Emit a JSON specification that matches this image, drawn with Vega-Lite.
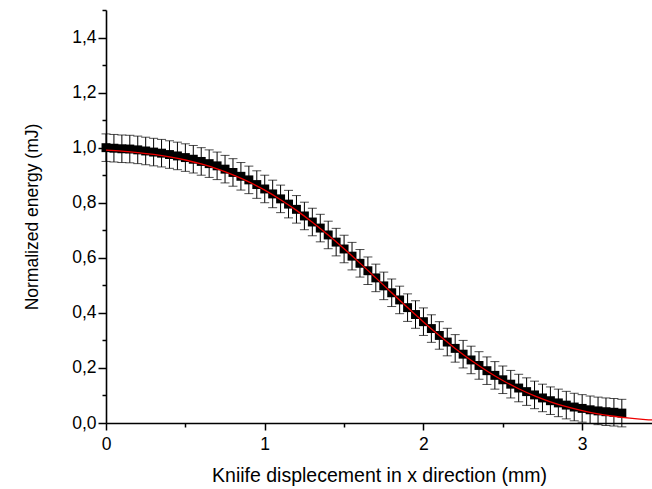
{
  "$schema": "https://vega.github.io/schema/vega-lite/v6.json",
  "width": 546,
  "height": 413,
  "autosize": {"type": "none"},
  "padding": {"left": 106, "top": 10, "right": 0, "bottom": 66},
  "background": "white",
  "config": {
    "view": {"stroke": null},
    "font": "Liberation Sans",
    "axis": {"domainColor": "black", "tickColor": "black", "labelColor": "black", "titleColor": "black", "grid": false, "labelFont": "Liberation Sans", "titleFont": "Liberation Sans", "titleFontWeight": "normal", "domainWidth": 1.6, "tickWidth": 1.5}
  },
  "datasets": {
    "meas": [
      {"x": 0.00, "y": 1.000, "err": 0.05}, {"x": 0.05, "y": 0.998, "err": 0.05}, {"x": 0.10, "y": 0.996, "err": 0.05}, {"x": 0.15, "y": 0.995, "err": 0.05},
      {"x": 0.20, "y": 0.992, "err": 0.05}, {"x": 0.25, "y": 0.988, "err": 0.05}, {"x": 0.30, "y": 0.984, "err": 0.05}, {"x": 0.35, "y": 0.980, "err": 0.05},
      {"x": 0.40, "y": 0.975, "err": 0.05}, {"x": 0.45, "y": 0.970, "err": 0.05}, {"x": 0.50, "y": 0.964, "err": 0.05}, {"x": 0.55, "y": 0.958, "err": 0.05},
      {"x": 0.60, "y": 0.950, "err": 0.05}, {"x": 0.65, "y": 0.942, "err": 0.05}, {"x": 0.70, "y": 0.934, "err": 0.05}, {"x": 0.75, "y": 0.922, "err": 0.05},
      {"x": 0.80, "y": 0.910, "err": 0.05}, {"x": 0.85, "y": 0.896, "err": 0.05}, {"x": 0.90, "y": 0.883, "err": 0.05}, {"x": 0.95, "y": 0.866, "err": 0.05},
      {"x": 1.00, "y": 0.850, "err": 0.05}, {"x": 1.05, "y": 0.832, "err": 0.05}, {"x": 1.10, "y": 0.814, "err": 0.05}, {"x": 1.15, "y": 0.795, "err": 0.05},
      {"x": 1.20, "y": 0.776, "err": 0.05}, {"x": 1.25, "y": 0.752, "err": 0.05}, {"x": 1.30, "y": 0.730, "err": 0.05}, {"x": 1.35, "y": 0.708, "err": 0.05},
      {"x": 1.40, "y": 0.683, "err": 0.05}, {"x": 1.45, "y": 0.657, "err": 0.05}, {"x": 1.50, "y": 0.632, "err": 0.05}, {"x": 1.55, "y": 0.606, "err": 0.05},
      {"x": 1.60, "y": 0.580, "err": 0.05}, {"x": 1.65, "y": 0.553, "err": 0.05}, {"x": 1.70, "y": 0.527, "err": 0.05}, {"x": 1.75, "y": 0.498, "err": 0.05},
      {"x": 1.80, "y": 0.473, "err": 0.05}, {"x": 1.85, "y": 0.447, "err": 0.05}, {"x": 1.90, "y": 0.419, "err": 0.05}, {"x": 1.95, "y": 0.394, "err": 0.05},
      {"x": 2.00, "y": 0.368, "err": 0.05}, {"x": 2.05, "y": 0.343, "err": 0.05}, {"x": 2.10, "y": 0.318, "err": 0.05}, {"x": 2.15, "y": 0.294, "err": 0.05},
      {"x": 2.20, "y": 0.271, "err": 0.05}, {"x": 2.25, "y": 0.250, "err": 0.05}, {"x": 2.30, "y": 0.229, "err": 0.05}, {"x": 2.35, "y": 0.209, "err": 0.05},
      {"x": 2.40, "y": 0.190, "err": 0.05}, {"x": 2.45, "y": 0.173, "err": 0.05}, {"x": 2.50, "y": 0.157, "err": 0.05}, {"x": 2.55, "y": 0.141, "err": 0.05},
      {"x": 2.60, "y": 0.127, "err": 0.05}, {"x": 2.65, "y": 0.114, "err": 0.05}, {"x": 2.70, "y": 0.102, "err": 0.05}, {"x": 2.75, "y": 0.091, "err": 0.05},
      {"x": 2.80, "y": 0.081, "err": 0.05}, {"x": 2.85, "y": 0.073, "err": 0.05}, {"x": 2.90, "y": 0.065, "err": 0.05}, {"x": 2.95, "y": 0.058, "err": 0.05},
      {"x": 3.00, "y": 0.053, "err": 0.05}, {"x": 3.05, "y": 0.048, "err": 0.05}, {"x": 3.10, "y": 0.044, "err": 0.05}, {"x": 3.15, "y": 0.041, "err": 0.05},
      {"x": 3.20, "y": 0.039, "err": 0.05}, {"x": 3.25, "y": 0.036, "err": 0.05}
    ],
    "fit": [
      {"x": 0.00, "y": 0.9912}, {"x": 0.10, "y": 0.9874}, {"x": 0.20, "y": 0.9823}, {"x": 0.30, "y": 0.9755}, {"x": 0.40, "y": 0.9666},
      {"x": 0.50, "y": 0.9552}, {"x": 0.60, "y": 0.9407}, {"x": 0.70, "y": 0.9229}, {"x": 0.80, "y": 0.9013}, {"x": 0.90, "y": 0.8756},
      {"x": 1.00, "y": 0.8456}, {"x": 1.10, "y": 0.8111}, {"x": 1.20, "y": 0.7722}, {"x": 1.30, "y": 0.7293}, {"x": 1.40, "y": 0.6826},
      {"x": 1.50, "y": 0.6328}, {"x": 1.60, "y": 0.5807}, {"x": 1.70, "y": 0.5271}, {"x": 1.80, "y": 0.4729}, {"x": 1.90, "y": 0.4193},
      {"x": 2.00, "y": 0.3672}, {"x": 2.10, "y": 0.3174}, {"x": 2.20, "y": 0.2707}, {"x": 2.30, "y": 0.2278}, {"x": 2.40, "y": 0.1889},
      {"x": 2.50, "y": 0.1544}, {"x": 2.60, "y": 0.1244}, {"x": 2.70, "y": 0.0987}, {"x": 2.80, "y": 0.0771}, {"x": 2.90, "y": 0.0593},
      {"x": 3.00, "y": 0.0449}, {"x": 3.10, "y": 0.0334}, {"x": 3.20, "y": 0.0245}, {"x": 3.30, "y": 0.0177}, {"x": 3.40, "y": 0.0126},
      {"x": 3.50, "y": 0.0089}
    ]
  },
  "encoding": {
    "x": {
      "field": "x", "type": "quantitative",
      "scale": {"domain": [0, 3.44], "nice": false, "zero": false},
      "axis": {
        "title": "Kniife displecement in x direction (mm)",
        "titleFontSize": 19.5, "titlePadding": 14,
        "values": [0, 0.5, 1, 1.5, 2, 2.5, 3],
        "labelExpr": "datum.value % 1 == 0 ? format(datum.value, 'd') : ''",
        "labelFontSize": 17.5, "labelPadding": 5,
        "tickSize": {"condition": {"test": "datum.value % 1 == 0", "value": 7}, "value": 4},
        "labelFlush": false
      }
    },
    "y": {
      "field": "y", "type": "quantitative",
      "scale": {"domain": [0, 1.5], "nice": false},
      "axis": {
        "title": "Normalized energy (mJ)",
        "titleFontSize": 17.5, "titlePadding": 30,
        "values": [0, 0.1, 0.2, 0.3, 0.4, 0.5, 0.6, 0.7, 0.8, 0.9, 1.0, 1.1, 1.2, 1.3, 1.4, 1.5],
        "labelExpr": "abs(datum.value*5 - round(datum.value*5)) < 0.01 ? replace(format(datum.value, '.1f'), '.', ',') : ''",
        "labelFontSize": 17.5, "labelPadding": 2,
        "tickSize": {"condition": {"test": "abs(datum.value*5 - round(datum.value*5)) < 0.01", "value": 8}, "value": 4},
        "labelFlush": false
      }
    }
  },
  "layer": [
    {
      "data": {"name": "meas"},
      "mark": {"type": "errorbar", "ticks": {"size": 9, "color": "black", "strokeWidth": 1}, "color": "black", "strokeWidth": 1},
      "encoding": {
        "x": {"field": "x", "type": "quantitative"},
        "y": {"field": "y", "type": "quantitative"},
        "yError": {"field": "err"}
      }
    },
    {
      "data": {"name": "meas"},
      "mark": {"type": "square", "size": 80, "color": "black", "opacity": 1, "filled": true}
    },
    {
      "data": {"name": "fit"},
      "mark": {"type": "line", "color": "#ee0000", "strokeWidth": 1.3, "interpolate": "monotone", "clip": true}
    }
  ]
}
